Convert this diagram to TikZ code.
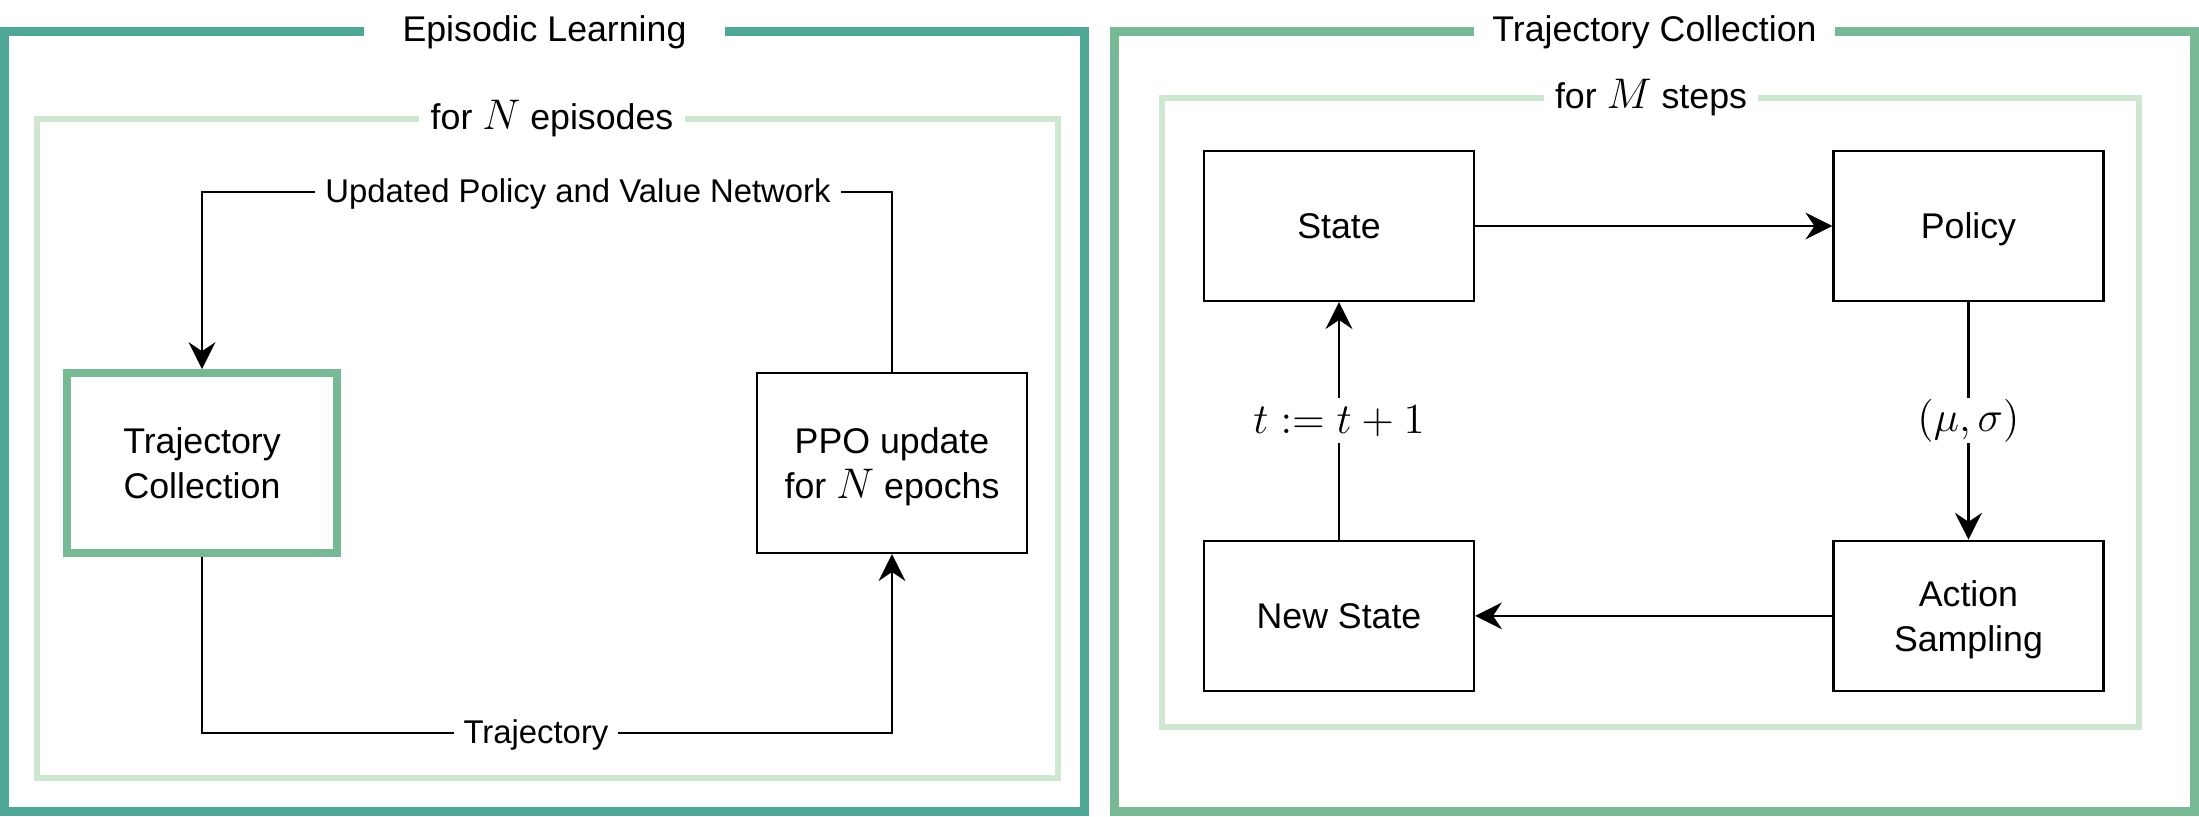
\documentclass[tikz,border=0pt]{standalone}
\usepackage{fontspec}
\setmainfont{Liberation Sans}
\usetikzlibrary{arrows.meta,positioning}

\definecolor{frameteal}{HTML}{4FA796}
\definecolor{framegreen}{HTML}{77B995}
\definecolor{looplight}{HTML}{CFE6D0}
\newcommand{\pxu}{0.28pt}
\newcommand{\mth}[1]{{\large$#1$}}

\begin{document}
\begin{tikzpicture}[
    x=\pxu, y=-\pxu,
    stepbox/.style={draw, line width=0.65pt, align=center, inner sep=0pt, text depth=0pt,
      font=\fontsize{10pt}{12.5pt}\selectfont, minimum width=270*\pxu, minimum height=150*\pxu},
    bigbox/.style={stepbox, minimum height=180*\pxu},
    trajbox/.style={bigbox, draw=framegreen, line width=2.24pt},
    frametitle/.style={fill=white, inner sep=0pt, minimum width=361*\pxu, minimum height=14pt},
    looptitle/.style={fill=white, inner xsep=3.2pt, inner ysep=1pt},
    flowlabel/.style={fill=white, inner xsep=2.8pt, inner ysep=1pt, yshift=-0.6pt, font=\fontsize{9.2pt}{11pt}\selectfont},
    mathlabel/.style={fill=white, inner xsep=1pt, inner ysep=0pt, minimum height=45*\pxu},
    flow/.style={->, line width=0.7pt},
    >={Stealth[length=7.5pt, width=7.5pt, inset=2.5pt]}
  ]
    \useasboundingbox (0,0) rectangle (2199,816);

    % outer frames
    \draw[frameteal, line width=2.52pt] (4.5,31.5) rectangle (1084.5,811.5);
    \draw[framegreen, line width=2.52pt] (1114.5,31.5) rectangle (2194.5,811.5);
    \node[frametitle] (eptitle) at (544.5,32) {Episodic Learning};
    \node[frametitle] (tctitle) at (1654.5,32) {Trajectory Collection};

    % loop frames
    \draw[looplight, line width=1.68pt] (37,119) rectangle (1058,778);
    \draw[looplight, line width=1.68pt] (1162,98) rectangle (2139,727);
    \node[looptitle] (eploop) at (552,119) {for \mth{N} episodes};
    \node[looptitle] (tcloop) at (1651,98) {for \mth{M} steps};

    % episodic learning
    \node[trajbox] (collect) at (202,463) {Trajectory\\Collection};
    \node[bigbox] (ppo) at (892,463) {PPO update\\for \mth{N} epochs};

    \coordinate (upd) at (0,192);
    \coordinate (traj) at (0,733);
    \draw[flow] (ppo.north) -- (ppo.north |- upd) -- node[flowlabel, pos=0.455] {Updated Policy and Value Network} (collect.north |- upd) -- (collect.north);
    \draw[flow] (collect.south) -- (collect.south |- traj) -- node[flowlabel, pos=0.484] {Trajectory} (ppo.south |- traj) -- (ppo.south);

    % trajectory collection
    \node[stepbox] (state) at (1339,226) {State};
    \node[stepbox, right=100pt of state] (policy) {Policy};
    \node[stepbox, below=66.5pt of state] (newstate) {New State};
    \node[stepbox, below=66.5pt of policy] (action) {Action\\Sampling};

    \draw[flow] (state) -- (policy);
    \draw[flow] (policy) -- node[mathlabel] {\mth{(\mu,\sigma)}} (action);
    \draw[flow] (action) -- (newstate);
    \draw[flow] (newstate) -- node[mathlabel] {\mth{t := t+1}} (state);
  \end{tikzpicture}
\end{document}
